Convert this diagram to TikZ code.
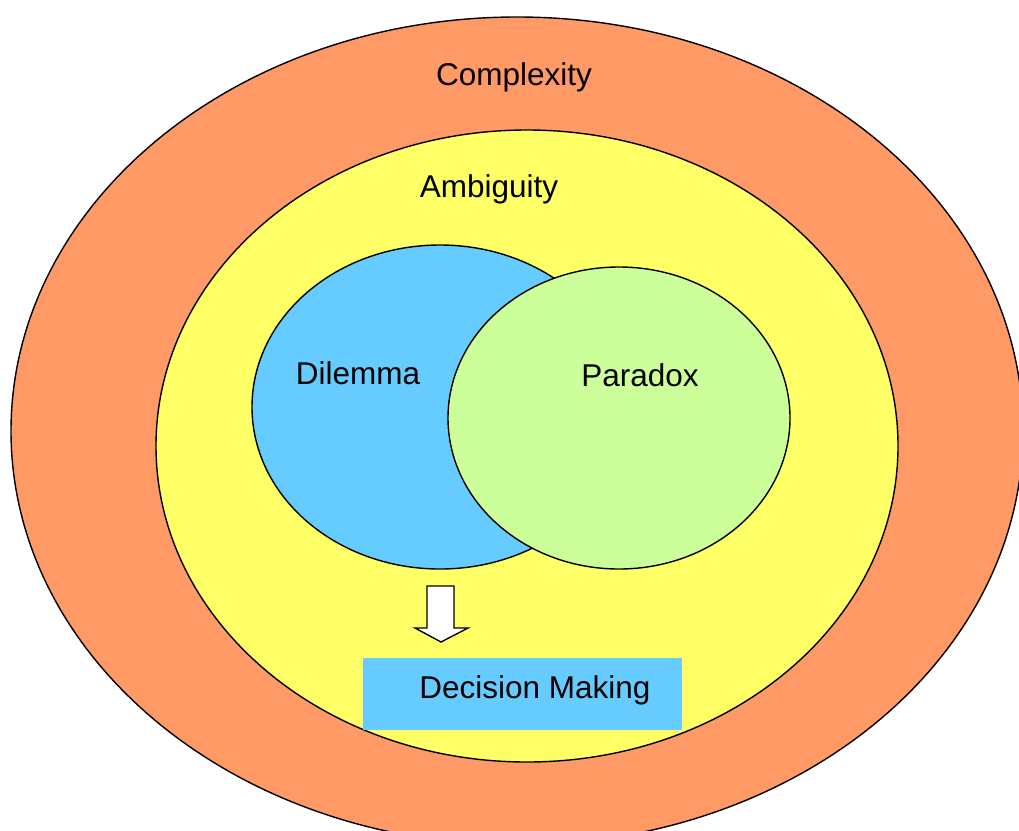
\documentclass[tikz,border=0pt]{standalone}
\usepackage{fontspec}
\setmainfont{Liberation Sans}
\usetikzlibrary{shapes.geometric}
\definecolor{corange}{HTML}{FF9966}
\definecolor{cyellow}{HTML}{FFFF66}
\definecolor{cblue}{HTML}{66CCFF}
\definecolor{cgreen}{HTML}{CCFF99}
\tikzset{
  blob/.style={ellipse, draw=black, line width=1.4pt, inner sep=0pt},
  lbl/.style={anchor=base, inner sep=0pt, font=\fontsize{31.5}{36}\selectfont},
}
\begin{document}
\begin{tikzpicture}[x=1pt,y=-1pt]
\useasboundingbox (0,0) rectangle (1019,830);
\begin{scope}
\clip (0,0) rectangle (1019,830);
\node[blob, fill=corange, minimum width=1012pt, minimum height=828pt] (complexity) at (517,431) {};
\node[blob, fill=cyellow, minimum width=742pt, minimum height=632pt] (ambiguity) at (527,446) {};
\node[blob, fill=cblue, minimum width=376pt, minimum height=324pt] (dilemma) at (440,407) {};
\node[blob, fill=cgreen, minimum width=342pt, minimum height=302pt] (paradox) at (619,418) {};
\node[fill=cblue, minimum width=319pt, minimum height=72pt, inner sep=0pt] (decision) at (522.5,694) {};
\end{scope}
\node[lbl] (tcomplexity) at (514,85) {Complexity};
\node[lbl] (tambiguity) at (489,197) {Ambiguity};
\node[lbl] (tdilemma) at (358,384) {Dilemma};
\node[lbl] (tparadox) at (640,386) {Paradox};
\node[lbl] (tdecision) at (535,698) {Decision Making};
\coordinate (arrowtop) at (440.5,586);
\coordinate (arrowtip) at (441,642);
\draw[fill=white, line width=1.4pt, line join=miter]
  (427,586) -- (454,586) -- (454,628) -- (468,628) -- (arrowtip) -- (415,628) -- (427,628) -- cycle;
\end{tikzpicture}
\end{document}
